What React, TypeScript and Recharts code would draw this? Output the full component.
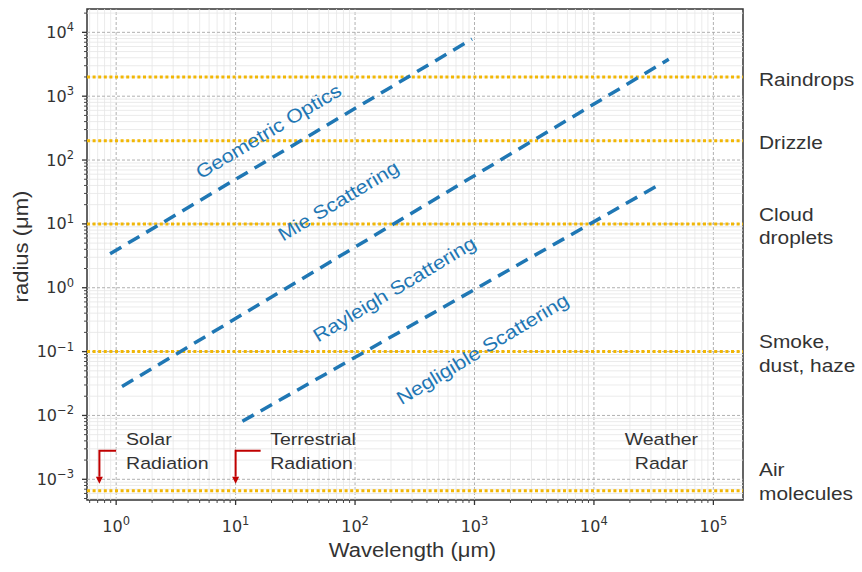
import React from "react";
import {
  ComposedChart,
  Line,
  XAxis,
  YAxis,
  ReferenceLine,
  ReferenceDot,
  ReferenceArea,
} from "recharts";

const xTicks = [1, 10, 100, 1000, 10000, 100000];
const yTicks = [0.001, 0.01, 0.1, 1, 10, 100, 1000, 10000];
const xDomain = [0.57, 177000];
const yDomain = [0.000474, 23200];

// particle sizes (yellow dotted lines) and their names on the right
const particleRadius = [2000, 200, 10, 0.1, 0.00066];
const particleLabelAt = [2000, 200, 10, 0.1, 0.001];
const particleNames = [
  ["Raindrops"],
  ["Drizzle"],
  ["Cloud", "droplets"],
  ["Smoke,", "dust, haze"],
  ["Air", "molecules"],
];

// boundaries between scattering regimes, end points (wavelength, radius)
const geometricEdge = [
  { wl: 0.89, r: 3.4 },
  { wl: 953, r: 7850 },
];
const mieEdge = [
  { wl: 1.12, r: 0.0284 },
  { wl: 42300, r: 3780 },
];
const rayleighEdge = [
  { wl: 11.4, r: 0.0081 },
  { wl: 34800, r: 40.7 },
];

const regimeNames = ["Geometric Optics", "Mie Scattering", "Rayleigh Scattering", "Negligible Scattering"];
const regimeLabelWl = [18.8, 72.3, 213, 1162];
const regimeLabelR = [285, 23.1, 0.96, 0.111];

// radiation band markers
const solarArrow = [
  { wl: 1.0, r: 0.0028 },
  { wl: 0.724, r: 0.0028 },
  { wl: 0.724, r: 0.0011 },
];
const terrestrialArrow = [
  { wl: 16.2, r: 0.0028 },
  { wl: 10, r: 0.0028 },
  { wl: 10, r: 0.0011 },
];
const bandNames = [
  ["Solar", "Radiation"],
  ["Terrestrial", "Radiation"],
  ["Weather", "Radar"],
];
const bandLabelWl = [1.21, 19.5, 36700];
const bandLabelR = 0.0028;

const BLUE = "#1f77b4";
const GOLD = "#f2b705";
const INK = "#333";
const SANS = "'Liberation Sans', Arial, sans-serif";
const SX = 1.13; // labels in the picture run a bit wider than Arial

// every 1..9 x 10^k inside [lo, hi]
const logTicks = (lo: number, hi: number) => {
  const out: number[] = [];
  for (let e = Math.floor(Math.log10(lo)); e <= Math.ceil(Math.log10(hi)); e++) {
    for (let m = 1; m < 10; m++) {
      const v = +(m * Math.pow(10, e)).toPrecision(6);
      if (v >= lo && v <= hi) out.push(v);
    }
  }
  return out;
};
const allX = logTicks(xDomain[0], xDomain[1]);
const allY = logTicks(yDomain[0], yDomain[1]);

const isDecade = (v: number) => Math.abs(Math.log10(v) - Math.round(Math.log10(v))) < 1e-6;
const expText = (v: number) => {
  const e = Math.round(Math.log10(v));
  return e < 0 ? "\u2212" + -e : String(e);
};

function XTick(props: any) {
  const { x, y, payload } = props;
  const major = isDecade(payload.value);
  return (
    <g>
      <line x1={x} y1={y} x2={x} y2={y + (major ? 5 : 3)} stroke={INK} strokeWidth={major ? 1.3 : 0.9} />
      {major && xTicks.includes(payload.value) && (
        <text x={x} y={y + 32} textAnchor="middle" fontFamily="'DejaVu Sans'" fontSize={16} fill={INK}>
          10
          <tspan dy={-7} fontSize={11.5}>
            {expText(payload.value)}
          </tspan>
        </text>
      )}
    </g>
  );
}

function YTick(props: any) {
  const { x, y, payload } = props;
  const major = isDecade(payload.value);
  return (
    <g>
      <line x1={x} y1={y} x2={x - (major ? 5 : 3)} y2={y} stroke={INK} strokeWidth={major ? 1.3 : 0.9} />
      {major && yTicks.includes(payload.value) && (
        <text x={x - 13} y={y + 5.5} textAnchor="end" fontFamily="'DejaVu Sans'" fontSize={16} fill={INK}>
          10
          <tspan dy={-6.5} fontSize={11.5}>
            {expText(payload.value)}
          </tspan>
        </text>
      )}
    </g>
  );
}

// multi-line text block, caps centred on (x, y)
function Words({ x, y, lines, size, lead = 23.3, anchor = "start", color = INK, angle = 0 }: any) {
  const cap = 0.716 * size;
  const first = -((lines.length - 1) * lead) / 2 + cap / 2;
  return (
    <text
      transform={`translate(${x},${y}) rotate(${angle}) scale(${SX},1)`}
      textAnchor={anchor}
      fontFamily={SANS}
      fontSize={size}
      fill={color}
    >
      {lines.map((s: string, i: number) => (
        <tspan key={i} x={0} y={first + i * lead}>
          {s}
        </tspan>
      ))}
    </text>
  );
}

const vbOf = (p: any) => p.viewBox || p;

function SideLabel(props: any) {
  const vb = vbOf(props);
  return <Words x={vb.x + 16} y={vb.y + 2} lines={props.lines} size={18.5} lead={23.5} />;
}

function BandLabel(props: any) {
  const vb = vbOf(props);
  return <Words x={vb.x} y={vb.y} lines={props.lines} size={17.3} anchor={props.anchor} />;
}

function RegimeLabel(props: any) {
  const vb = vbOf(props);
  return <Words x={vb.x} y={vb.y} lines={[props.text]} size={19} anchor="middle" color={BLUE} angle={-31} />;
}

function YTitle(props: any) {
  const vb = vbOf(props);
  return <Words x={vb.x + 21.5} y={vb.y + vb.height / 2 - 8} lines={["radius (\u03bcm)"]} size={19.5} anchor="middle" angle={-90} />;
}

function XTitle(props: any) {
  const vb = vbOf(props);
  return <Words x={vb.x + vb.width / 2 - 2.5} y={vb.y + 50} lines={["Wavelength (\u03bcm)"]} size={19.5} anchor="middle" />;
}

function ArrowHead(props: any) {
  const { cx, cy, index, points } = props;
  if (index !== points.length - 1) return <g key={index} />;
  return <polygon key={index} points={`${cx - 3.5},${cy} ${cx + 3.5},${cy} ${cx},${cy + 7}`} fill="#c00000" />;
}

export default function App() {
  return (
    <div style={{ position: "absolute", left: 0, top: 0, width: 862, height: 572, background: "#fff" }}>
      <ComposedChart width={862} height={572} margin={{ top: 9, right: 119, bottom: 0, left: 0 }}>
        <XAxis
          type="number"
          dataKey="wl"
          scale="log"
          domain={xDomain}
          allowDataOverflow
          ticks={allX}
          interval={0}
          tickSize={0}
          tickMargin={0}
          tickLine={false}
          axisLine={false}
          tick={<XTick />}
          height={72}
          label={<XTitle />}
        />
        <YAxis
          type="number"
          dataKey="r"
          scale="log"
          domain={yDomain}
          allowDataOverflow
          ticks={allY}
          interval={0}
          tickSize={0}
          tickMargin={0}
          tickLine={false}
          axisLine={false}
          tick={<YTick />}
          width={87}
          label={<YTitle />}
        />

        {/* grid: light solid minor lines, dashed grey decades */}
        {allX.map((v) => (
          <ReferenceLine
            key={"gx" + v}
            x={v}
            stroke={isDecade(v) ? "#a8a8a8" : "#e6e6e6"}
            strokeWidth={isDecade(v) ? 0.9 : 0.8}
            strokeDasharray={isDecade(v) ? "3 2" : undefined}
          />
        ))}
        {allY.map((v) => (
          <ReferenceLine
            key={"gy" + v}
            y={v}
            stroke={isDecade(v) ? "#a8a8a8" : "#e6e6e6"}
            strokeWidth={isDecade(v) ? 0.9 : 0.8}
            strokeDasharray={isDecade(v) ? "3 2" : undefined}
          />
        ))}

        {particleRadius.map((r) => (
          <ReferenceLine key={"p" + r} y={r} stroke={GOLD} strokeWidth={3} strokeDasharray="3 2.6" />
        ))}

        <Line data={geometricEdge} dataKey="r" stroke={BLUE} strokeWidth={3.5} strokeDasharray="13 8" dot={false} isAnimationActive={false} />
        <Line data={mieEdge} dataKey="r" stroke={BLUE} strokeWidth={3.5} strokeDasharray="13 8" dot={false} isAnimationActive={false} />
        <Line data={rayleighEdge} dataKey="r" stroke={BLUE} strokeWidth={3.5} strokeDasharray="13 8" dot={false} isAnimationActive={false} />

        <Line data={solarArrow} dataKey="r" stroke="#c00000" strokeWidth={2} dot={<ArrowHead />} isAnimationActive={false} />
        <Line data={terrestrialArrow} dataKey="r" stroke="#c00000" strokeWidth={2} dot={<ArrowHead />} isAnimationActive={false} />

        <ReferenceArea
          x1={xDomain[0]}
          x2={xDomain[1]}
          y1={yDomain[0]}
          y2={yDomain[1]}
          fill="none"
          stroke={INK}
          strokeWidth={1.5}
          ifOverflow="visible"
        />

        {regimeNames.map((name, i) => (
          <ReferenceDot
            key={name}
            x={regimeLabelWl[i]}
            y={regimeLabelR[i]}
            r={0}
            fill="none"
            stroke="none"
            ifOverflow="visible"
            label={<RegimeLabel text={name} />}
          />
        ))}
        {bandNames.map((lines, i) => (
          <ReferenceDot
            key={lines[0]}
            x={bandLabelWl[i]}
            y={bandLabelR}
            r={0}
            fill="none"
            stroke="none"
            ifOverflow="visible"
            label={<BandLabel lines={lines} anchor={i === 2 ? "middle" : "start"} />}
          />
        ))}
        {particleNames.map((lines, i) => (
          <ReferenceDot
            key={lines[0]}
            x={xDomain[1]}
            y={particleLabelAt[i]}
            r={0}
            fill="none"
            stroke="none"
            ifOverflow="visible"
            label={<SideLabel lines={lines} />}
          />
        ))}
      </ComposedChart>
    </div>
  );
}
